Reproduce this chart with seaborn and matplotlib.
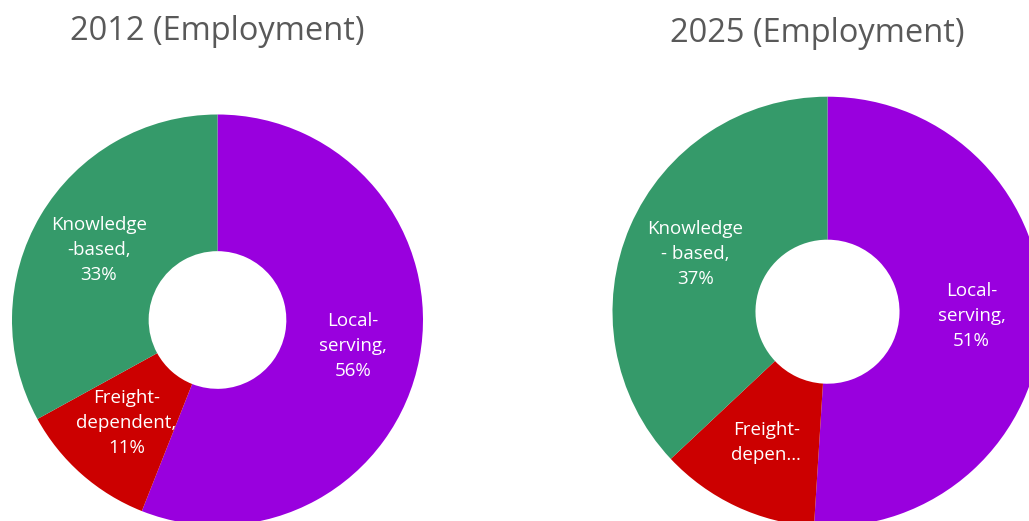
import matplotlib.pyplot as plt
import seaborn as sns

sns.set_theme(style="white")
plt.rcParams['font.family'] = ['Open Sans', 'DejaVu Sans']

# data
categories = ['Local-serving', 'Freight-dependent', 'Knowledge-based']
share_2012 = [56, 11, 33]
share_2025 = [51, 12, 37]
labels_2012 = ['Local-\nserving,\n56%', 'Freight-\ndependent,\n11%', 'Knowledge\n-based,\n33%']
labels_2025 = ['Local-\nserving,\n51%', 'Freight-\ndepen\u2026', 'Knowledge\n- based,\n37%']
titles = ['2012 (Employment)', '2025 (Employment)']

colors = sns.color_palette(['#9900de', '#cc0000', '#359a6a'])

W, H = 1029, 521
fig = plt.figure(figsize=(W / 100, H / 100), dpi=100)


def donut(cx, cy, R, values, labels):
    # axes sized in pixels so the ring lands where it sits in the reference
    ax = fig.add_axes([(cx - R) / W, (H - cy - R) / H, 2 * R / W, 2 * R / H])
    wedges, texts = ax.pie(values, labels=labels, colors=colors, startangle=90,
                           counterclock=False, radius=1, labeldistance=0.67,
                           wedgeprops=dict(width=0.665, linewidth=0),
                           textprops=dict(color='white', fontsize=13.5, linespacing=1.5))
    for t in texts:
        t.set_ha('center')
        t.set_va('center')
    ax.set_xlim(-1, 1)
    ax.set_ylim(-1, 1)
    ax.axis('off')
    return ax


donut(217.5, 320, 205.5, share_2012, labels_2012)
donut(827.5, 311.7, 215, share_2025, labels_2025)

fig.text(217 / W, 1 - 31 / H, titles[0], ha='center', va='center', fontsize=23.5, color='#595959')
fig.text(817.5 / W, 1 - 34 / H, titles[1], ha='center', va='center', fontsize=23.5, color='#595959')

fig.savefig('out.png', dpi=100)
